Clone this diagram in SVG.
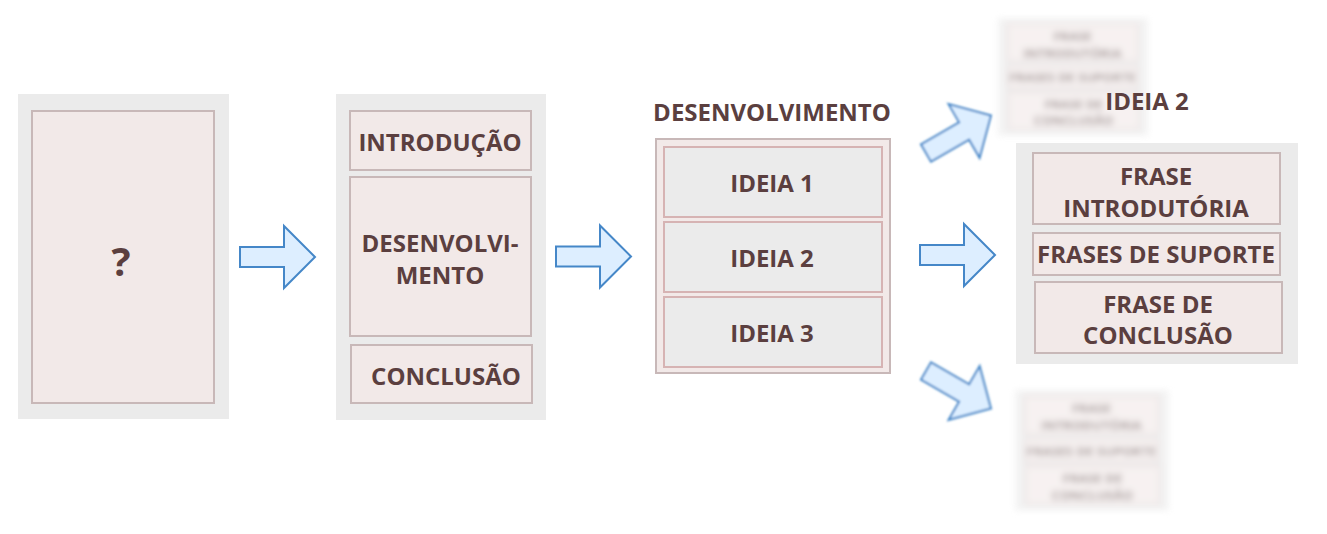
<svg xmlns="http://www.w3.org/2000/svg" xmlns:xlink="http://www.w3.org/1999/xlink" width="1327" height="534" viewBox="0 0 1327 534">
<style>
.outer{fill:#ebebeb;stroke:none}
.pink{fill:#f2e9e8;stroke:#c8b8b8;stroke-width:2}
.grayin{fill:#ebebeb;stroke:#d6b3b3;stroke-width:2}
.t{font-family:"Open Sans","Noto Sans","DejaVu Sans",sans-serif;font-weight:700;fill:#5b3f3f;text-anchor:middle;font-size:24px}
.arrow{fill:#ddeeff;stroke:#4587c8;stroke-width:2;stroke-linejoin:miter}
</style>
<defs>
<path id="arr" d="M0,-10 L44,-10 L44,-31 L75,0 L44,31 L44,10 L0,10 Z"/>
<filter id="blurBig" x="-20%" y="-20%" width="140%" height="140%"><feGaussianBlur stdDeviation="3.2"/></filter>
<filter id="blurSmall" x="-20%" y="-20%" width="140%" height="140%"><feGaussianBlur stdDeviation="0.9"/></filter>
</defs>
<rect width="1327" height="534" fill="#ffffff"/>

<g id="node-question">
<rect class="outer" x="18" y="94" width="211" height="325"/>
<rect class="pink" x="32" y="111" width="182" height="292"/>
<text class="t" x="121" y="276" style="font-size:40px">?</text>
</g>

<g id="node-structure">
<rect class="outer" x="336" y="94" width="210" height="326"/>
<rect class="pink" x="350" y="111" width="181" height="59"/>
<text class="t" x="440" y="151">INTRODUÇÃO</text>
<rect class="pink" x="350" y="177" width="181" height="159"/>
<text class="t" x="440" y="252">DESENVOLVI-</text>
<text class="t" x="440" y="284">MENTO</text>
<rect class="pink" x="351" y="345" width="181" height="58"/>
<text class="t" x="446" y="385">CONCLUSÃO</text>
</g>

<g id="node-desenvolvimento">
<text class="t" x="772" y="121">DESENVOLVIMENTO</text>
<rect class="pink" x="656" y="139" width="234" height="234"/>
<rect class="grayin" x="664" y="147" width="218" height="70"/>
<text class="t" x="772" y="192">IDEIA 1</text>
<rect class="grayin" x="664" y="222" width="218" height="70"/>
<text class="t" x="772" y="267">IDEIA 2</text>
<rect class="grayin" x="664" y="297" width="218" height="70"/>
<text class="t" x="772" y="342">IDEIA 3</text>
</g>

<g id="node-ideia1-blur" opacity="0.6" filter="url(#blurBig)">
<use xlink:href="#ideia2-card" href="#ideia2-card" transform="translate(457.5,-57.9) scale(0.532)"/>
</g>
<g id="node-ideia3-blur" opacity="0.6" filter="url(#blurBig)">
<use xlink:href="#ideia2-card" href="#ideia2-card" transform="translate(461.3,312.2) scale(0.545)"/>
</g>

<g id="node-ideia2">
<text class="t" x="1147" y="110">IDEIA 2</text>
<g id="ideia2-card">
<rect class="outer" x="1016" y="143" width="282" height="221"/>
<rect class="pink" x="1033" y="153" width="247" height="71"/>
<text class="t" x="1156" y="185">FRASE</text>
<text class="t" x="1156" y="217">INTRODUTÓRIA</text>
<rect class="pink" x="1033" y="233" width="247" height="42"/>
<text class="t" x="1156" y="263">FRASES DE SUPORTE</text>
<rect class="pink" x="1035" y="282" width="247" height="71"/>
<text class="t" x="1158" y="313">FRASE DE</text>
<text class="t" x="1158" y="344">CONCLUSÃO</text>
</g>
</g>

<g id="connectors">
<use class="arrow" xlink:href="#arr" href="#arr" transform="translate(240,257)"/>
<use class="arrow" xlink:href="#arr" href="#arr" transform="translate(556,256.5)"/>
<use class="arrow" xlink:href="#arr" href="#arr" transform="translate(920,255)"/>
<g filter="url(#blurSmall)">
<use class="arrow" xlink:href="#arr" href="#arr" transform="translate(926,153) rotate(-30)"/>
<use class="arrow" xlink:href="#arr" href="#arr" transform="translate(926,371) rotate(30)"/>
</g>
</g>
</svg>
